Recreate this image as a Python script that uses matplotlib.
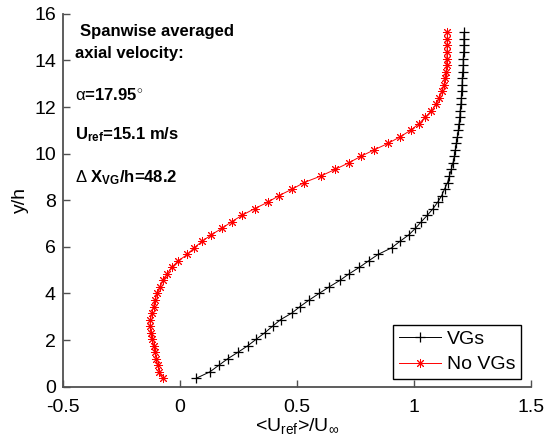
import matplotlib
matplotlib.use("Agg")
import matplotlib.pyplot as plt

plt.rcParams['font.family'] = ['Liberation Sans', 'DejaVu Sans']
plt.rcParams['mathtext.fontset'] = 'custom'
plt.rcParams['mathtext.rm'] = 'Liberation Sans'
plt.rcParams['mathtext.it'] = 'Liberation Sans:italic'
plt.rcParams['mathtext.bf'] = 'Liberation Sans:bold'

# shared y positions of the profile points (y/h)
y_h = [0.36, 0.64, 0.92, 1.20, 1.48, 1.76, 2.04, 2.32, 2.60, 2.88,
       3.16, 3.44, 3.72, 4.00, 4.28, 4.56, 4.84, 5.12, 5.40, 5.68,
       5.96, 6.24, 6.52, 6.80, 7.08, 7.36, 7.64, 7.92, 8.20, 8.48,
       8.76, 9.04, 9.32, 9.60, 9.88, 10.16, 10.44, 10.72, 11.00, 11.28,
       11.56, 11.84, 12.12, 12.40, 12.68, 12.96, 13.24, 13.52, 13.80, 14.08,
       14.36, 14.64, 14.92, 15.20]

u_vgs = [0.069, 0.128, 0.166, 0.204, 0.248, 0.290, 0.326, 0.363, 0.396, 0.430,
         0.478, 0.513, 0.552, 0.594, 0.637, 0.683, 0.722, 0.766, 0.806, 0.847,
         0.904, 0.940, 0.978, 1.006, 1.031, 1.057, 1.081, 1.101, 1.118, 1.130,
         1.143, 1.151, 1.159, 1.166, 1.172, 1.176, 1.180, 1.185, 1.189, 1.192,
         1.195, 1.197, 1.200, 1.202, 1.203, 1.205, 1.206, 1.208, 1.210, 1.210,
         1.212, 1.213, 1.213, 1.213]

u_novgs = [-0.074, -0.088, -0.095, -0.101, -0.107, -0.112, -0.118, -0.124, -0.128, -0.126,
           -0.120, -0.113, -0.106, -0.097, -0.086, -0.071, -0.055, -0.036, -0.007, 0.032,
           0.060, 0.095, 0.134, 0.180, 0.221, 0.266, 0.319, 0.376, 0.423, 0.480,
           0.530, 0.602, 0.662, 0.720, 0.772, 0.829, 0.889, 0.940, 0.985, 1.020,
           1.048, 1.074, 1.094, 1.108, 1.120, 1.128, 1.133, 1.137, 1.139, 1.140,
           1.141, 1.141, 1.142, 1.142]

x_ticks = [-0.5, 0, 0.5, 1, 1.5]
x_ticklabels = ['-0.5', '0', '0.5', '1', '1.5']
y_ticks = [0, 2, 4, 6, 8, 10, 12, 14, 16]

fig = plt.figure(figsize=(5.47, 4.44), dpi=100)
ax = fig.add_axes([0.115, 0.129, 0.856, 0.84])

ax.plot(u_vgs, y_h, color='black', lw=0.7, marker='+', ms=7, mew=0.9, label='VGs')
ax.plot(u_novgs, y_h, color='red', lw=0.7, marker=(8, 2, 0), ms=6.5, mew=0.7, label='No VGs')

ax.set_xlim(-0.5, 1.5)
ax.set_ylim(0, 16)
ax.set_xticks(x_ticks)
ax.set_xticklabels(x_ticklabels)
ax.set_yticks(y_ticks)

for s in ['top', 'right']:
    ax.spines[s].set_visible(False)
for s in ['left', 'bottom']:
    ax.spines[s].set_color('#505050')
    ax.spines[s].set_linewidth(1.3)
ax.tick_params(direction='in', length=5, width=1, color='#505050', labelsize=14)
ax.tick_params(axis='x', pad=9)
ax.tick_params(axis='y', pad=5)

ax.set_xlabel(r'<U$_{\rm ref}$>/U$_\infty$', fontsize=14, labelpad=0)
ax.set_ylabel('y/h', fontsize=14, labelpad=4)

tx = -0.45
ax.text(tx + 0.025, 15.22, 'Spanwise averaged', fontsize=12, fontweight='bold', va='center')
ax.text(tx, 14.31, 'axial velocity:', fontsize=12, fontweight='bold', va='center')
ax.text(tx, 12.5, r'$\mathrm{\alpha}$=17.95$^{\circ}$', fontsize=12, fontweight='bold', va='center')
ax.text(tx, 10.8, r'U$_{\mathbf{ref}}$=15.1 m/s', fontsize=12, fontweight='bold', va='center')
ax.text(tx, 8.95, r'$\Delta$ X$_{\mathbf{VG}}$/h=48.2', fontsize=12, fontweight='bold', va='center')

leg = ax.legend(loc='lower right', fontsize=14, frameon=True, fancybox=False,
                edgecolor='black', framealpha=1,
                handlelength=2.15, borderpad=0.3, labelspacing=0.4,
                handletextpad=0.3, borderaxespad=0, bbox_to_anchor=(0.979, 0.02))
leg.get_frame().set_linewidth(1.0)

fig.savefig('out.png', dpi=100)
